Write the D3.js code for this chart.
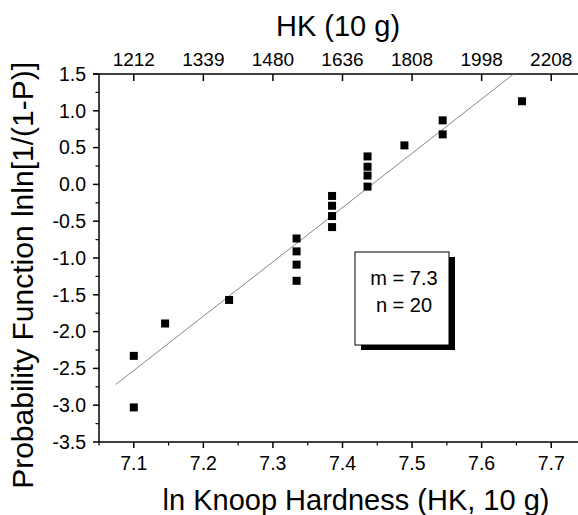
<!DOCTYPE html>
<html>
<head>
<meta charset="utf-8">
<script src="https://cdn.jsdelivr.net/npm/d3@7"></script>
<style>
  html, body { margin: 0; padding: 0; background: #fff; }
  svg { display: block; font-family: "Liberation Sans", Arial, sans-serif; }
</style>
</head>
<body>
<div id="chart"></div>
<script>
// Weibull plot of Knoop hardness values

const lnHK = [7.100, 7.100, 7.145, 7.237, 7.334, 7.334, 7.334, 7.334, 7.385, 7.385,
              7.385, 7.385, 7.436, 7.436, 7.436, 7.436, 7.489, 7.544, 7.544, 7.658];
const lnlnP = [-2.33, -3.03, -1.89, -1.57, -0.735, -0.91, -1.09, -1.31, -0.157, -0.29,
               -0.43, -0.58, 0.38, 0.24, 0.12, -0.03, 0.53, 0.87, 0.68, 1.13];

const fitX = [7.074, 7.646];
const fitY = [-2.72, 1.50];

const bottomTicks = [7.1, 7.2, 7.3, 7.4, 7.5, 7.6, 7.7];
const topTickLabels = ['1212', '1339', '1480', '1636', '1808', '1998', '2208'];
const yTicks = [1.5, 1.0, 0.5, 0.0, -0.5, -1.0, -1.5, -2.0, -2.5, -3.0, -3.5];

const weibullM = '7.3';
const sampleN = '20';

const width = 578, height = 515;

const svg = d3.select('#chart').append('svg')
  .attr('width', width)
  .attr('height', height);

const x = d3.scaleLinear().domain([7.05, 7.75]).range([99, 586]);
const y = d3.scaleLinear().domain([-3.5, 1.5]).range([442, 74]);

// Minor ticks
const xMinor = d3.range(7.05, 7.76, 0.05).filter(v => !bottomTicks.some(t => Math.abs(t - v) < 1e-6));
const yMinor = d3.range(-3.25, 1.5, 0.5);

// Bottom axis
const bottomAxis = svg.append('g').attr('transform', `translate(0,${y(-3.5)})`);
bottomAxis.append('line').attr('x1', x(7.05)).attr('x2', width).attr('stroke', '#000').attr('stroke-width', 1.5);
bottomAxis.selectAll('.maj').data(bottomTicks).enter().append('line')
  .attr('x1', d => x(d)).attr('x2', d => x(d)).attr('y1', 0).attr('y2', 6)
  .attr('stroke', '#000').attr('stroke-width', 1.5);
bottomAxis.selectAll('.min').data(xMinor).enter().append('line')
  .attr('x1', d => x(d)).attr('x2', d => x(d)).attr('y1', 0).attr('y2', 3.5)
  .attr('stroke', '#000').attr('stroke-width', 1.2);
bottomAxis.selectAll('.lbl').data(bottomTicks).enter().append('text')
  .attr('x', d => x(d)).attr('y', 28)
  .attr('text-anchor', 'middle')
  .attr('font-size', 19.5)
  .text(d => d.toFixed(1));

// Top axis (HK values at the same positions)
const topAxis = svg.append('g').attr('transform', `translate(0,${y(1.5)})`);
topAxis.append('line').attr('x1', x(7.05) - 6).attr('x2', width).attr('stroke', '#000').attr('stroke-width', 1.5);
topAxis.selectAll('.maj').data(bottomTicks).enter().append('line')
  .attr('x1', d => x(d)).attr('x2', d => x(d)).attr('y1', 0).attr('y2', 7)
  .attr('stroke', '#000').attr('stroke-width', 1.5);
topAxis.selectAll('.lbl').data(bottomTicks).enter().append('text')
  .attr('x', d => x(d)).attr('y', -8)
  .attr('text-anchor', 'middle')
  .attr('font-size', 19)
  .text((d, i) => topTickLabels[i]);

// Left axis
const leftAxis = svg.append('g').attr('transform', `translate(${x(7.05)},0)`);
leftAxis.append('line').attr('y1', y(1.5)).attr('y2', y(-3.5)).attr('stroke', '#000').attr('stroke-width', 1.5);
leftAxis.selectAll('.maj').data(yTicks).enter().append('line')
  .attr('y1', d => y(d)).attr('y2', d => y(d)).attr('x1', -6).attr('x2', 0)
  .attr('stroke', '#000').attr('stroke-width', 1.5);
leftAxis.selectAll('.min').data(yMinor).enter().append('line')
  .attr('y1', d => y(d)).attr('y2', d => y(d)).attr('x1', -3.5).attr('x2', 0)
  .attr('stroke', '#000').attr('stroke-width', 1.2);
leftAxis.selectAll('.lbl').data(yTicks).enter().append('text')
  .attr('x', -13).attr('y', d => y(d))
  .attr('dy', '0.35em')
  .attr('text-anchor', 'end')
  .attr('font-size', 19.5)
  .text(d => d.toFixed(1));

// Axis titles
svg.append('text')
  .attr('x', 338).attr('y', 36)
  .attr('text-anchor', 'middle')
  .attr('font-size', 29)
  .text('HK (10 g)');

svg.append('text')
  .attr('x', 356).attr('y', 510)
  .attr('text-anchor', 'middle')
  .attr('font-size', 29)
  .text('ln Knoop Hardness (HK, 10 g)');

svg.append('text')
  .attr('transform', 'translate(33,62) rotate(-90)')
  .attr('text-anchor', 'end')
  .attr('font-size', 30)
  .text('Probability Function lnln[1/(1-P)]');

// Fit line
svg.append('line')
  .attr('x1', x(fitX[0])).attr('y1', y(fitY[0]))
  .attr('x2', x(fitX[1])).attr('y2', y(fitY[1]))
  .attr('stroke', '#777')
  .attr('stroke-width', 0.9);

// Data points
const pts = lnHK.map((v, i) => ({ x: v, y: lnlnP[i] }));
svg.selectAll('.pt').data(pts).enter().append('rect')
  .attr('class', 'pt')
  .attr('x', d => x(d.x) - 4).attr('y', d => y(d.y) - 4)
  .attr('width', 8).attr('height', 8)
  .attr('fill', '#000');

// Annotation box with shadow
const box = { x: 355, y: 252, w: 94, h: 93 };
svg.append('rect')
  .attr('x', box.x + 6).attr('y', box.y + 5)
  .attr('width', box.w).attr('height', box.h)
  .attr('fill', '#000');
svg.append('rect')
  .attr('x', box.x).attr('y', box.y)
  .attr('width', box.w).attr('height', box.h)
  .attr('fill', '#fff').attr('stroke', '#000').attr('stroke-width', 1);
svg.append('text')
  .attr('x', box.x + box.w / 2 + 2).attr('y', 285)
  .attr('text-anchor', 'middle')
  .attr('font-size', 20)
  .text(`m = ${weibullM}`);
svg.append('text')
  .attr('x', box.x + box.w / 2 + 2).attr('y', 312)
  .attr('text-anchor', 'middle')
  .attr('font-size', 20)
  .text(`n = ${sampleN}`);
</script>
</body>
</html>
